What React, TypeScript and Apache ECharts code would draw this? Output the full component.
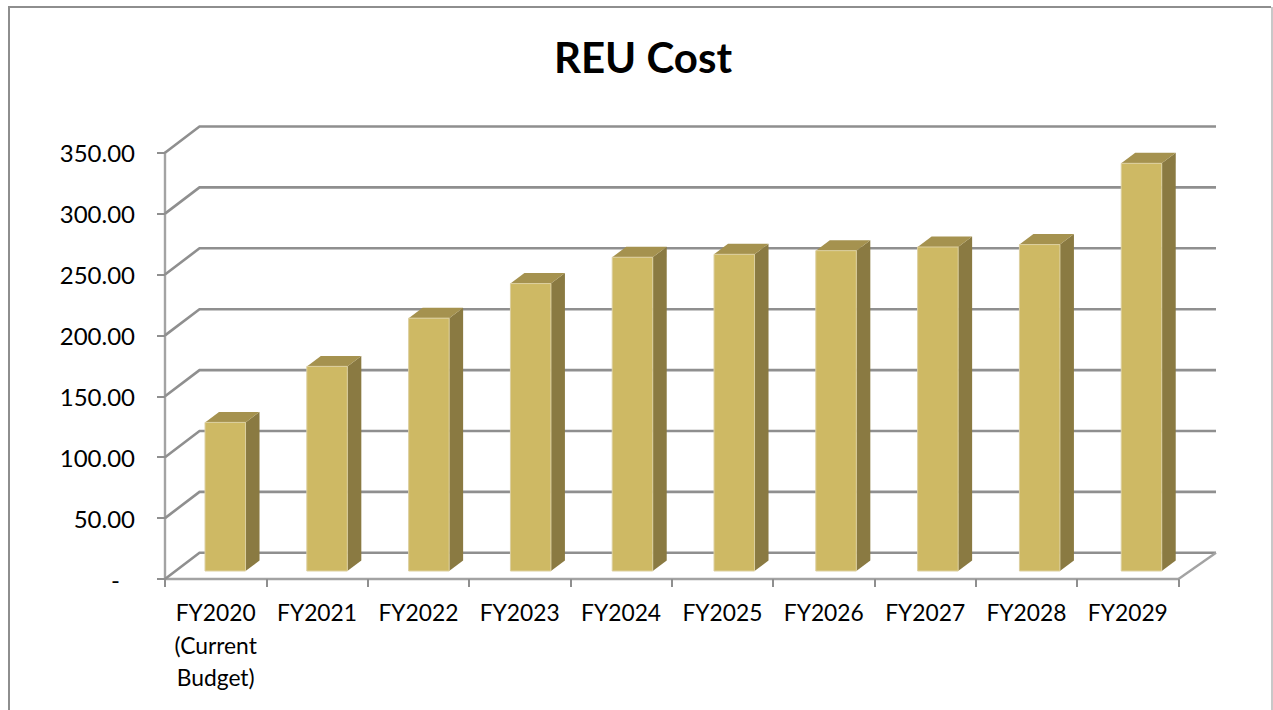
import React, { useEffect, useRef } from "react";
import * as echarts from "echarts";

const categories = ["FY2020\n(Current\nBudget)", "FY2021", "FY2022", "FY2023", "FY2024", "FY2025", "FY2026", "FY2027", "FY2028", "FY2029"];
const values = [122, 168, 207.6, 236, 257.6, 260, 263, 266, 268, 334.7];
const yTicks = [0, 50, 100, 150, 200, 250, 300, 350];
const FONT = "Lato, 'Noto Sans', sans-serif";

export default function App() {
  const ref = useRef<HTMLDivElement>(null);
  useEffect(() => {
    const chart = echarts.init(ref.current!, null, { renderer: "svg" });
    const gridRender = (params: any, api: any) => {
      const cs = params.coordSys;
      const p = api.coord([0, api.value(1)]);
      const y = p[1];
      const xl = cs.x, xr = cs.x + cs.width;
      const backL = xl + 34.5, backR = xr + 37.5, backY = y - 26.2;
      const children: any[] = [{
        type: "polyline",
        shape: { points: [[xl, y], [backL, backY], [backR, backY]] },
        style: { fill: "none", stroke: "#8f8f8f", lineWidth: 2.6 },
      }];
      if (api.value(1) === 0) {
        children.push({
          type: "line",
          shape: { x1: xr, y1: y, x2: backR, y2: backY },
          style: { stroke: "#a3a3a3", lineWidth: 2.4 },
        });
      }
      return { type: "group", children };
    };
    const barRender = (params: any, api: any) => {
      const i = api.value(0);
      const top = api.coord([i, api.value(1)]);
      const base = api.coord([i, 0]);
      const w = 40.5, shiftX = 9.6 + 0.45 * i, shiftY = -8, dx = 14, dy = -10.5;
      const x0 = top[0] - w / 2 + shiftX, x1 = x0 + w;
      const yt = top[1] + shiftY, yb = base[1] + shiftY;
      return {
        type: "group",
        children: [
          { type: "polygon", shape: { points: [[x1, yt], [x1 + dx, yt + dy], [x1 + dx, yb + dy], [x1, yb]] }, style: { fill: "#8a7a42" } },
          { type: "polygon", shape: { points: [[x0, yt], [x0 + dx, yt + dy], [x1 + dx, yt + dy], [x1, yt]] }, style: { fill: "#a5924f" } },
          { type: "rect", shape: { x: x0, y: yt, width: w, height: yb - yt }, style: { fill: "#ceb964", stroke: "#dccf9f", lineWidth: 1 } },
        ],
      };
    };
    chart.setOption({
      animation: false,
      backgroundColor: "#ffffff",
      title: {
        text: "REU Cost",
        left: 638,
        top: 31,
        textAlign: "center",
        textStyle: { fontFamily: FONT, fontSize: 42, fontWeight: "bold", color: "#000" },
      },
      graphic: [
        { type: "line", silent: true, shape: { x1: 9, y1: 7, x2: 1271, y2: 7 }, style: { stroke: "#8e8e8e", lineWidth: 2 } },
        { type: "line", silent: true, shape: { x1: 9, y1: 6, x2: 9, y2: 710 }, style: { stroke: "#8e8e8e", lineWidth: 2 } },
        { type: "line", silent: true, shape: { x1: 1272, y1: 7, x2: 1272, y2: 710 }, style: { stroke: "#c8c8c8", lineWidth: 2 } },
      ],
      grid: { left: 165, top: 152.7, width: 1013.5, height: 426.3, containLabel: false },
      xAxis: {
        type: "category",
        data: categories,
        axisLine: { lineStyle: { color: "#a3a3a3", width: 2.4 } },
        axisTick: { show: true, length: 8, lineStyle: { color: "#8f8f8f", width: 2 } },
        axisLabel: { color: "#000", fontFamily: FONT, fontSize: 22.8, lineHeight: 32.5, margin: 17, interval: 0 },
        splitLine: { show: false },
      },
      yAxis: {
        type: "value",
        min: 0,
        max: 350,
        interval: 50,
        axisLine: { show: true, lineStyle: { color: "#a3a3a3", width: 2.4 } },
        axisTick: { show: true, length: 8, lineStyle: { color: "#8f8f8f", width: 2 } },
        splitLine: { show: false },
        axisLabel: {
          color: "#000",
          fontFamily: FONT,
          fontSize: 24,
          margin: 30,
          formatter: (v: number) => (v === 0 ? "{d|-}" : v.toFixed(2)),
          rich: { d: { color: "#000", fontFamily: FONT, fontSize: 24, padding: [0, 15, 0, 0] } },
        },
      },
      series: [
        { type: "custom", silent: true, z: 1, renderItem: gridRender, data: yTicks.map((v) => [0, v]), encode: { x: 0, y: 1 } },
        { type: "custom", silent: true, z: 3, renderItem: barRender, data: values.map((v, i) => [i, v]), encode: { x: 0, y: 1 } },
      ],
    });
    return () => chart.dispose();
  }, []);
  return <div ref={ref} style={{ position: "fixed", left: 0, top: 0, width: 1273, height: 710 }} />;
}
